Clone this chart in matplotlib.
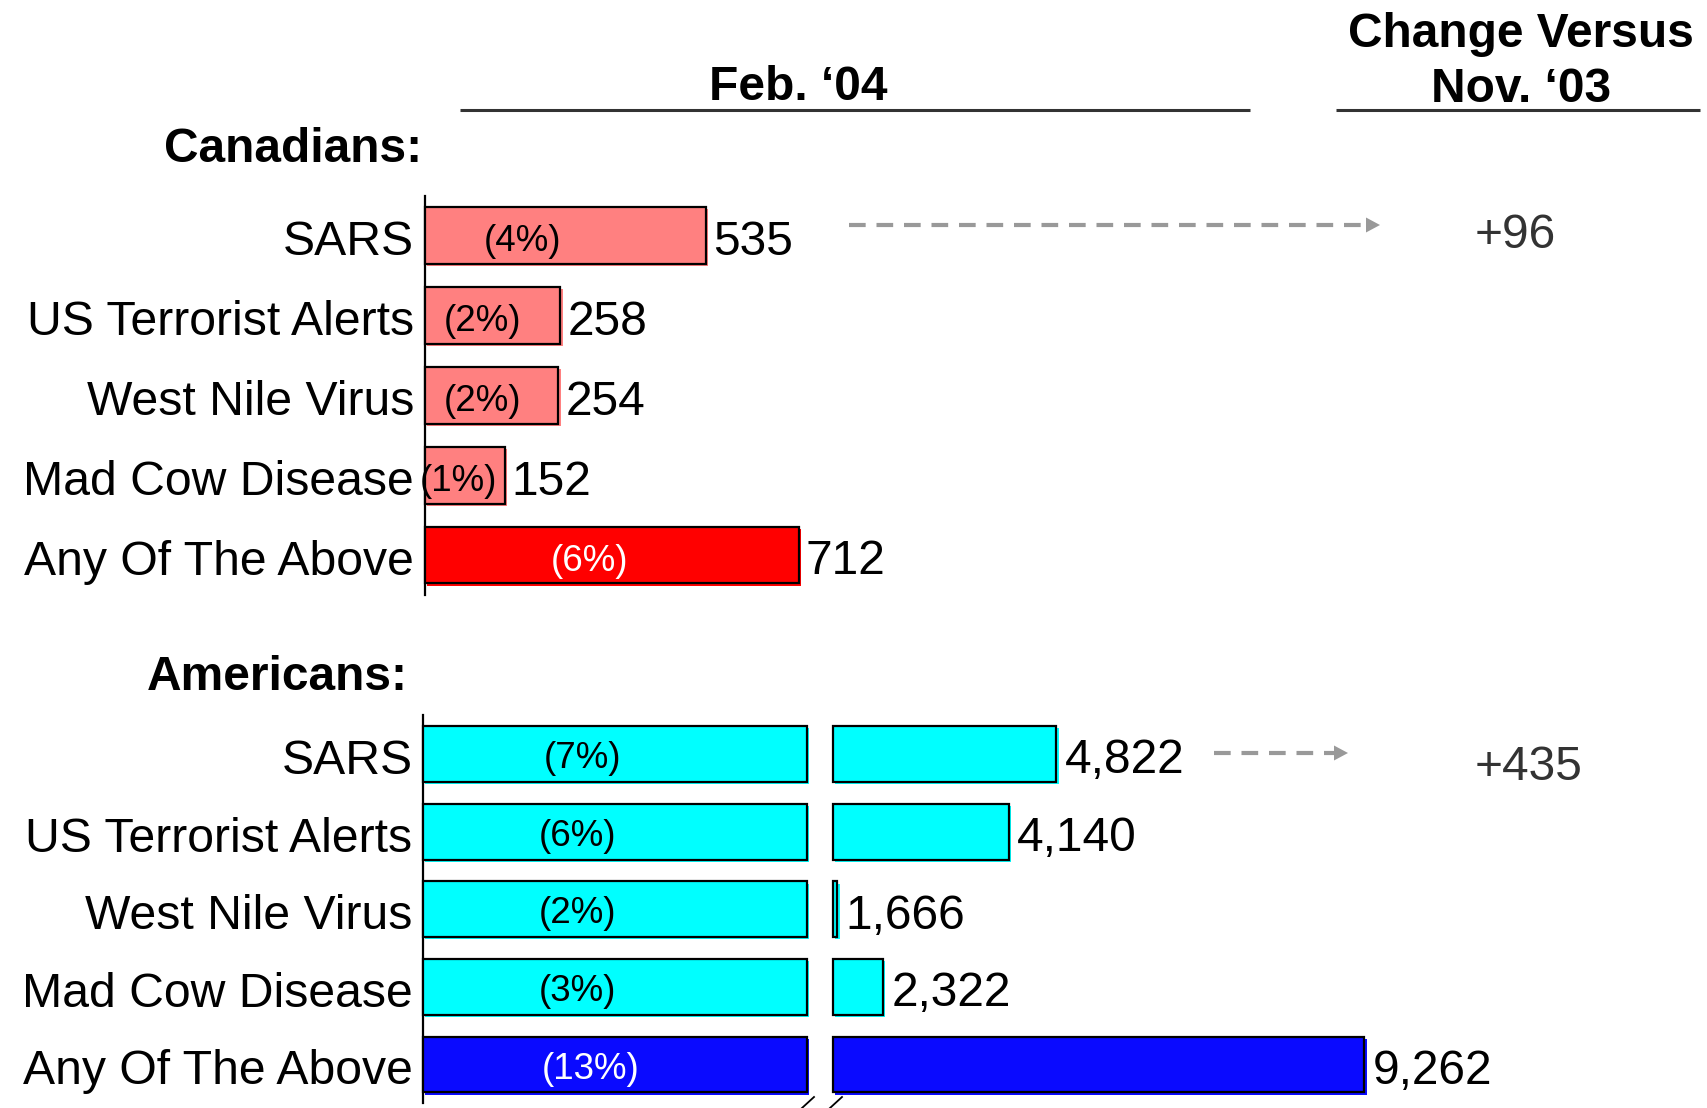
import matplotlib
matplotlib.use('Agg')
import matplotlib.pyplot as plt
from matplotlib import patheffects as pe
from matplotlib.patches import Polygon
import matplotlib.transforms as mtransforms

plt.rcParams['font.family'] = ['Liberation Sans', 'DejaVu Sans']

# ---------------- data ----------------
categories = ['SARS', 'US Terrorist Alerts', 'West Nile Virus', 'Mad Cow Disease', 'Any Of The Above']
can_values = [535, 258, 254, 152, 712]
can_pct = ['(4%)', '(2%)', '(2%)', '(1%)', '(6%)']
us_values = [4822, 4140, 1666, 2322, 9262]
us_pct = ['(7%)', '(6%)', '(2%)', '(3%)', '(13%)']
change_labels = ['+96', '+435']
group_titles = ['Canadians:', 'Americans:']
header_period = 'Feb. \u201804'
header_change = 'Change Versus\nNov. \u201803'

# ---------------- layout ----------------
W, H = 1707, 1108
fig = plt.figure(figsize=(W / 100, H / 100), dpi=100)

def ax_px(x0, y0, x1, y1):
    return fig.add_axes([x0 / W, 1 - y1 / H, (x1 - x0) / W, (y1 - y0) / H])

FS = 34.5
CFS = 34.7
PFS = 26.5
light_can, dark_can = '#FF8080', '#FF0000'
light_us, dark_us = '#00FFFF', '#0A0AFF'

down = mtransforms.ScaledTranslation(0, -2.5 / 100, fig.dpi_scale_trans)

def style_axis(ax, pad, show_left=True):
    for s in ['top', 'right', 'bottom']:
        ax.spines[s].set_visible(False)
    ax.spines['left'].set_visible(show_left)
    ax.spines['left'].set_linewidth(1.6)
    ax.set_xticks([])
    ax.tick_params(axis='y', length=0, pad=pad, labelsize=CFS)
    ax.set_facecolor('none')

def draw_bars(ax, widths, colors, height, left=0):
    bars = ax.barh(range(len(widths)), widths, left=left, height=height, color=colors,
                   edgecolor='black', linewidth=1.6, zorder=3, clip_on=False)
    for b, c in zip(bars, colors):
        b.set_path_effects([pe.SimplePatchShadow(offset=(1.6, -1.6), shadow_rgbFace=c, alpha=1),
                            pe.Normal()])
    return bars

def set_cats(ax):
    ax.set_yticks(range(len(categories)))
    ax.set_yticklabels(categories)
    for lab in ax.get_yticklabels():
        lab.set_transform(lab.get_transform() + down)

# Canadians
can_scale = 0.525  # px per unit
ax_c = ax_px(425, 195.5, W, 595)
ax_c.set_xlim(0, (W - 425) / can_scale)
ax_c.set_ylim(4.5, -0.5)
can_colors = [light_can] * 4 + [dark_can]
draw_bars(ax_c, can_values, can_colors, 0.71)
style_axis(ax_c, 8)
set_cats(ax_c)
can_pct_x = [185, 109, 109, 63, 314]
for i, (v, p) in enumerate(zip(can_values, can_pct)):
    ax_c.annotate(f'{v:,}', (v, i), xytext=(5, -5), textcoords='offset points',
                  ha='left', va='center', fontsize=FS, color='black')
    ax_c.text(can_pct_x[i], i + 0.075, p, ha='center', va='center', fontsize=PFS,
              color='white' if i == 4 else 'black', zorder=4)

# Americans (broken axis)
brk = 1600
us_scale = 0.0694
ax_l = ax_px(423, 715.2, 806.5, 1103.3)
ax_l.set_xlim(0, brk)
ax_l.set_ylim(4.5, -0.5)
us_colors = [light_us] * 4 + [dark_us]
draw_bars(ax_l, [min(v, brk) for v in us_values], us_colors, 0.72)
style_axis(ax_l, 7.5)
set_cats(ax_l)
us_pct_x = [0.417, 0.404, 0.404, 0.404, 0.438]
for i, p in enumerate(us_pct):
    ax_l.text(us_pct_x[i], i + 0.06, p, transform=ax_l.get_yaxis_transform(),
              ha='center', va='center', fontsize=PFS,
              color='white' if i == 4 else 'black', zorder=4)

ax_r = ax_px(832.7, 715.2, W, 1103.3)
ax_r.set_xlim(brk, brk + (W - 832.7) / us_scale)
ax_r.set_ylim(4.5, -0.5)
draw_bars(ax_r, [v - brk for v in us_values], us_colors, 0.72, left=brk)
style_axis(ax_r, 0, show_left=False)
ax_r.set_yticks([])
for i, v in enumerate(us_values):
    ax_r.annotate(f'{v:,}', (v, i), xytext=(6, -5), textcoords='offset points',
                  ha='left', va='center', fontsize=FS, color='black')

# ---------------- overlay (headers, arrows, break marks) ----------------
ov = fig.add_axes([0, 0, 1, 1], zorder=5)
ov.set_xlim(0, W)
ov.set_ylim(H, 0)
ov.axis('off')
ov.patch.set_visible(False)

ov.text(798, 88, header_period, ha='center', va='center', fontsize=FS, fontweight='bold')
ov.plot([460, 1250], [110, 110], color='#333333', lw=2.2, solid_capstyle='butt')
ov.text(1521, 62, header_change, ha='center', va='center', fontsize=FS,
        fontweight='bold', linespacing=1.3)
ov.plot([1336, 1700], [110, 110], color='#333333', lw=2.2, solid_capstyle='butt')

ov.text(422, 150, group_titles[0], ha='right', va='center', fontsize=FS, fontweight='bold')
ov.text(408, 678, group_titles[1], ha='right', va='center', fontsize=FS, fontweight='bold')

arrow_col = '#999999'
def dashed_arrow(x0, x1, y):
    ov.plot([x0, x1 - 13], [y, y], color=arrow_col, lw=3, ls=(0, (4.0, 2.6)),
            solid_capstyle='butt', dash_capstyle='butt')
    ov.add_patch(Polygon([[x1 - 14, y - 7.5], [x1 - 14, y + 7.5], [x1, y]],
                         closed=True, color=arrow_col, lw=0))

dashed_arrow(849, 1380, 225)
dashed_arrow(1214, 1348, 753)

ov.text(1475, 236, change_labels[0], ha='left', va='center', fontsize=FS, color='#333333')
ov.text(1475, 768, change_labels[1], ha='left', va='center', fontsize=FS, color='#333333')

for xc in (808, 836):
    ov.plot([xc - 6, xc + 6], [1108, 1097], color='black', lw=1.3, clip_on=False)

fig.savefig('out.png', dpi=100)
